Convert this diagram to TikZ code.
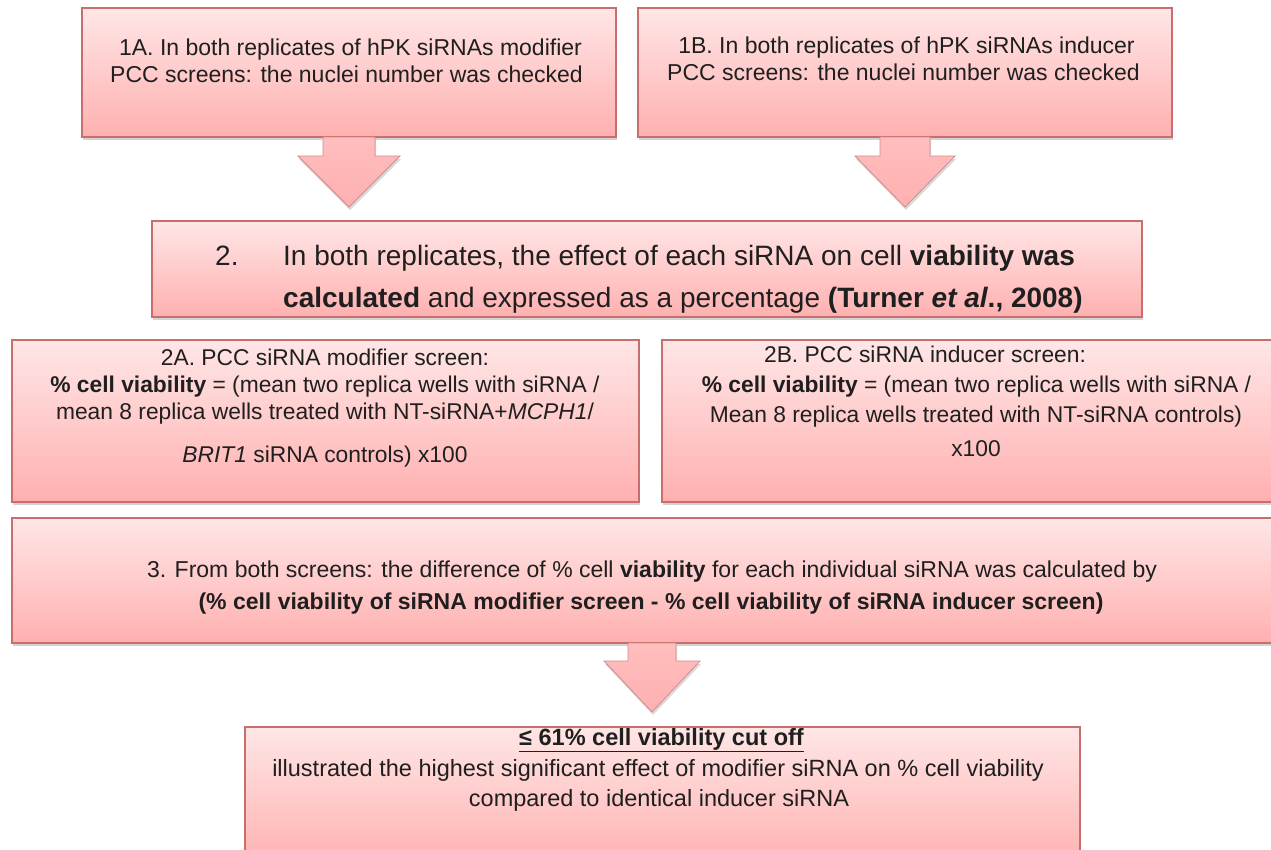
\documentclass[tikz,border=0pt]{standalone}
\usepackage{fontspec}
\setmainfont{Liberation Sans}
\usetikzlibrary{shadows,calc}
\definecolor{pinktop}{RGB}{255,230,230}
\definecolor{pinkbot}{RGB}{255,176,176}
\definecolor{pinkedge}{RGB}{200,110,108}
\tikzset{
  pinkbox/.style={draw=pinkedge, line width=1.3pt, top color=pinktop, bottom color=pinkbot,
    drop shadow={opacity=0.35, shadow xshift=1pt, shadow yshift=-3pt},
    inner sep=0pt, outer sep=0pt},
  pinkarrow/.style={draw=pinkedge!80, line width=0.8pt, top color=pinkbot!75!pinktop, bottom color=pinkbot,
    drop shadow={opacity=0.3, shadow xshift=1pt, shadow yshift=-3pt}, line join=miter},
  txt/.style={anchor=base, inner sep=0pt, text=black!88},
  txtl/.style={anchor=base west, inner sep=0pt, text=black!88},
  fa/.style={font=\fontsize{23}{27}\selectfont},
  fb/.style={font=\fontsize{28}{33}\selectfont},
  fc/.style={font=\fontsize{22.8}{27}\selectfont},
  fd/.style={font=\fontsize{23}{27}\selectfont},
  fe/.style={font=\fontsize{23.5}{28}\selectfont},
}
\newcommand\blockarrow[5]{% start, shaft half, head half, shaft length, total length
  \path[pinkarrow] #1 ++(-#2,0) -- ++(0,#4) -- ++(#2-#3,0) -- ++(#3,#5-#4) -- ++(#3,-#5+#4) -- ++(#2-#3,0) -- ++(0,-#4) -- cycle;}
\begin{document}
\begin{tikzpicture}[x=1pt,y=-1pt]
\useasboundingbox (0,0) rectangle (1271,849);
% boxes
\node[pinkbox, minimum width=534pt, minimum height=129pt] (a1) at (349,72.5) {};
\node[pinkbox, minimum width=534pt, minimum height=129pt] (b1) at (905,72.5) {};
% arrows from 1A and 1B
\blockarrow{(a1.south)}{26}{51}{19}{70}
\blockarrow{(b1.south)}{25}{50}{19}{70}
\node[pinkbox, minimum width=990pt, minimum height=96pt] (s2) at (647,269) {};
\node[pinkbox, minimum width=627pt, minimum height=162pt] (a2) at (325.5,421) {};
\node[pinkbox, minimum width=630pt, minimum height=162pt] (b2) at (977,421) {};
\node[pinkbox, minimum width=1290pt, minimum height=125pt] (s3) at (657,580.5) {};
\coordinate (a3) at (652,643);
\blockarrow{(a3)}{24}{48}{18}{69}
\node[pinkbox, minimum width=835pt, minimum height=140pt] (s4) at (662.5,797) {};
% texts 1A
\node[txt, fa] (t1a1) at (350.5,55) {1A. In both replicates of hPK siRNAs modifier};
\node[txt, fa] (t1a2) at (346.5,82) {PCC screens: the nuclei number was checked};
% texts 1B
\node[txt, fa] (t1b1) at (906.5,53) {1B. In both replicates of hPK siRNAs inducer};
\node[txt, fa] (t1b2) at (903.5,80) {PCC screens: the nuclei number was checked};
% texts 2
\node[txtl, fb] (t2n) at (215,265) {2.};
\node[txtl, fb] (t21) at (283,265) {In both replicates, the effect of each siRNA on cell \textbf{viability was}};
\node[txtl, fb] (t22) at (283,307) {\textbf{calculated} and expressed as a percentage \textbf{(Turner \textit{et al}., 2008)}};
% texts 2A
\node[txt, fc] (t2a1) at (325,365) {2A. PCC siRNA modifier screen:};
\node[txt, fc] (t2a2) at (325,392) {\textbf{\% cell viability} = (mean two replica wells with siRNA /};
\node[txt, fc] (t2a3) at (325,419) {mean 8 replica wells treated with NT-siRNA+\textit{MCPH1}/};
\node[txt, fc] (t2a4) at (325,462) {\textit{BRIT1} siRNA controls) x100};
% texts 2B
\node[txt, fc] (t2b1) at (925,362) {2B. PCC siRNA inducer screen:};
\node[txt, fc] (t2b2) at (976.5,392) {\textbf{\% cell viability} = (mean two replica wells with siRNA /};
\node[txt, fc] (t2b3) at (976,422) {Mean 8 replica wells treated with NT-siRNA controls)};
\node[txt, fc] (t2b4) at (976,456) {x100};
% texts 3
\node[txt, fd] (t31) at (652,577) {3. From both screens: the difference of \% cell \textbf{viability} for each individual siRNA was calculated by};
\node[txt, fd] (t32) at (651,609) {\textbf{(\% cell viability of siRNA modifier screen - \% cell viability of siRNA inducer screen)}};
% texts 4
\node[txt, fe] (t41) at (661.5,745) {\textbf{\underline{≤ 61\% cell viability cut off}}};
\node[txt, fe] (t42) at (658,776) {illustrated the highest significant effect of modifier siRNA on \% cell viability};
\node[txt, fe] (t43) at (659,806) {compared to identical inducer siRNA};
\end{tikzpicture}
\end{document}
